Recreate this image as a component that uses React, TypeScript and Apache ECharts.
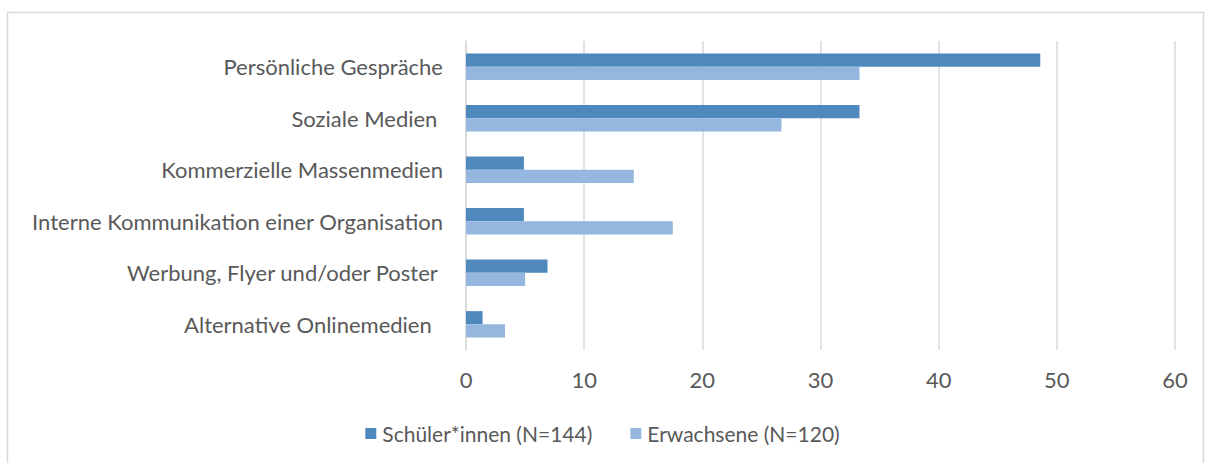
import React, { useEffect, useRef } from "react";
import * as echarts from "echarts";

const categories = [
  "Persönliche Gespräche",
  "Soziale Medien ",
  "Kommerzielle Massenmedien",
  "Interne Kommunikation einer Organisation",
  "Werbung, Flyer und/oder Poster ",
  "Alternative Onlinemedien  ",
];
const schueler = [48.6, 33.3, 4.9, 4.9, 6.9, 1.4];
const erwachsene = [33.3, 26.7, 14.2, 17.5, 5.0, 3.3];
const seriesNames = ["Schüler*innen (N=144)", "Erwachsene (N=120)"];

const FONT = "Lato";
const TEXT = "#595959";

export default function App() {
  const ref = useRef<HTMLDivElement>(null);
  useEffect(() => {
    if (!ref.current) return;
    const chart = echarts.init(ref.current, undefined, { renderer: "svg" });
    chart.setOption({
      animation: false,
      backgroundColor: "#fff",
      textStyle: { fontFamily: FONT, color: TEXT },
      graphic: [
        {
          type: "rect",
          shape: { x: 7.5, y: 12.5, width: 1196, height: 470 },
          style: { fill: "none", stroke: "#d9d9d9", lineWidth: 1.5 },
          silent: true,
        },
      ],
      grid: { left: 466, right: 30, top: 41, bottom: 113, containLabel: false },
      legend: {
        bottom: 14,
        left: "center",
        itemWidth: 11,
        itemHeight: 11,
        itemGap: 38,
        icon: "rect",
        textStyle: { fontFamily: FONT, fontSize: 21, color: TEXT, padding: [0, 0, 0, 1] },
        data: seriesNames,
      },
      xAxis: {
        type: "value",
        min: 0,
        max: 60,
        interval: 10,
        axisLine: { show: false },
        axisTick: { show: false },
        splitLine: { lineStyle: { color: "#d9d9d9", width: 1.5 } },
        axisLabel: { fontFamily: FONT, fontSize: 22, color: TEXT, margin: 18 },
      },
      yAxis: {
        type: "category",
        inverse: true,
        data: categories,
        axisLine: { show: true, lineStyle: { color: "#d9d9d9", width: 1.5 } },
        axisTick: { show: false },
        axisLabel: { fontFamily: FONT, fontSize: 22, color: TEXT, margin: 23, padding: [0, 0, 3, 0] },
      },
      series: [
        {
          name: seriesNames[0],
          type: "bar",
          data: schueler,
          itemStyle: { color: "#4F88BD" },
          barCategoryGap: "49%",
          barGap: "0%",
        },
        {
          name: seriesNames[1],
          type: "bar",
          data: erwachsene,
          itemStyle: { color: "#95B7DF" },
          barCategoryGap: "49%",
          barGap: "0%",
        },
      ],
    });
    return () => chart.dispose();
  }, []);
  return (
    <div
      ref={ref}
      style={{ position: "fixed", left: 0, top: 0, width: 1205, height: 463 }}
    />
  );
}
